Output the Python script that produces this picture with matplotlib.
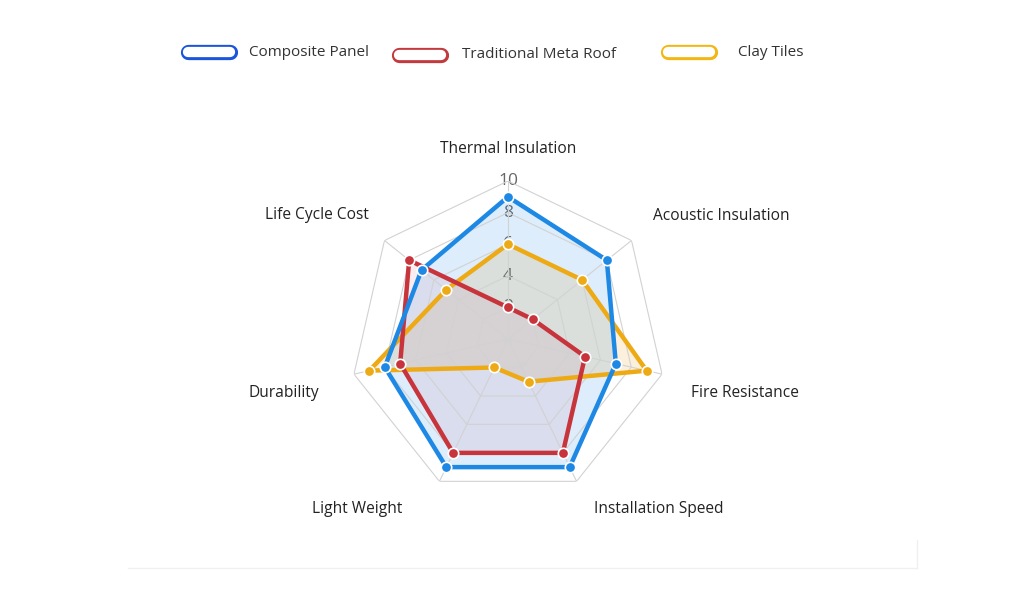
import numpy as np
import matplotlib.pyplot as plt
from matplotlib.lines import Line2D

plt.rcParams['font.family'] = ['Open Sans', 'DejaVu Sans']

# data
categories = ['Thermal Insulation', 'Acoustic Insulation', 'Fire Resistance',
              'Installation Speed', 'Light Weight', 'Durability', 'Life Cycle Cost']
composite = [9, 8, 7, 9, 9, 8, 7]
traditional = [2, 2, 5, 8, 8, 7, 8]
clay = [6, 6, 9, 3, 2, 9, 5]
series_names = ['Composite Panel', 'Traditional Meta Roof', 'Clay Tiles']
r_ticks = [2, 4, 6, 8, 10]

line_colors = ['#1e88e5', '#c8343c', '#eeaa14']
fill_colors = ['#1e88e5', '#d0506a', '#f0a020']
fill_alpha = [0.15, 0.10, 0.16]
legend_colors = ['#1a55dc', '#c2393e', '#f2b712']

# small nudges (pixels) for the axis labels
label_nudge = [(0, -3), (0, 0), (3, -5), (6, 5), (-25, 5), (-9, -5), (5, 1)]

n = len(categories)
theta = np.arange(n) * 2 * np.pi / n
theta_c = np.append(theta, theta[0])

fig = plt.figure(figsize=(10.24, 6.15), dpi=100)
cx, cy, rad = 508 / 1024, 1 - 339 / 615, 158
ax = fig.add_axes([cx - rad / 1024, cy - rad / 615, 2 * rad / 1024, 2 * rad / 615],
                  projection='polar')
ax.set_theta_zero_location('N')
ax.set_theta_direction(-1)
ax.set_ylim(0, 10)
ax.grid(False)
ax.set_xticks([])
ax.set_yticks([])
ax.spines['polar'].set_visible(False)
ax.patch.set_alpha(0)

# polygon grid
for r in r_ticks:
    ax.plot(theta_c, [r] * (n + 1), color='#d2d2d2', lw=0.8, zorder=5)
for t in theta:
    ax.plot([t, t], [0, 10], color='#d2d2d2', lw=0.8, zorder=5)

# radial tick labels (under the data)
for r in r_ticks:
    ax.text(0, r, str(r), ha='center', va='center', fontsize=12.5, color='#666666', zorder=1)

# fills first, then lines, first series on top
data = [composite, traditional, clay]
for i in reversed(range(3)):
    vals = np.append(data[i], data[i][0])
    ax.fill(theta_c, vals, color=fill_colors[i], alpha=fill_alpha[i], lw=0, zorder=2 + (2 - i))
for i in reversed(range(3)):
    vals = np.append(data[i], data[i][0])
    z = 10 + (2 - i) * 2
    ax.plot(theta_c, vals, color=line_colors[i], lw=3.2, zorder=z,
            solid_joinstyle='round')
    ax.plot(theta, data[i], 'o', color=line_colors[i], ms=7.5, mec='white', mew=1.2,
            zorder=z + 1)

# category labels
for t, name, nd in zip(theta, categories, label_nudge):
    s, c = np.sin(t), np.cos(t)
    if abs(s) < 0.1:
        ha = 'center'
    elif s > 0:
        ha = 'left'
    else:
        ha = 'right'
    va = 'bottom' if c > 0 else 'top'
    ax.annotate(name, xy=(t, 11.7), xytext=nd, textcoords='offset pixels',
                ha=ha, va=va, fontsize=11.2, color='#222222', annotation_clip=False)

# legend: outlined pills
legend_x = [180, 391, 660]
legend_y = [52, 55, 52]
text_x = [249, 462, 738]
for i in range(3):
    xs = [(legend_x[i] + 7.5) / 1024, (legend_x[i] + 57 - 7.5) / 1024]
    ys = [1 - legend_y[i] / 615] * 2
    fig.add_artist(Line2D(xs, ys, transform=fig.transFigure, color=legend_colors[i],
                          lw=11, solid_capstyle='round'))
    fig.add_artist(Line2D(xs, ys, transform=fig.transFigure, color='white',
                          lw=7.4, solid_capstyle='round'))
    fig.text(text_x[i] / 1024, 1 - legend_y[i] / 615, series_names[i], ha='left',
             va='center', fontsize=11, color='#333333')

# faint frame line at the bottom
fig.add_artist(Line2D([128 / 1024, 917 / 1024], [1 - 568 / 615] * 2,
                      transform=fig.transFigure, color='#f0f0f0', lw=1))
fig.add_artist(Line2D([917 / 1024] * 2, [1 - 568 / 615, 1 - 540 / 615],
                      transform=fig.transFigure, color='#f0f0f0', lw=1))

fig.savefig('out.png', dpi=100, facecolor='white')
